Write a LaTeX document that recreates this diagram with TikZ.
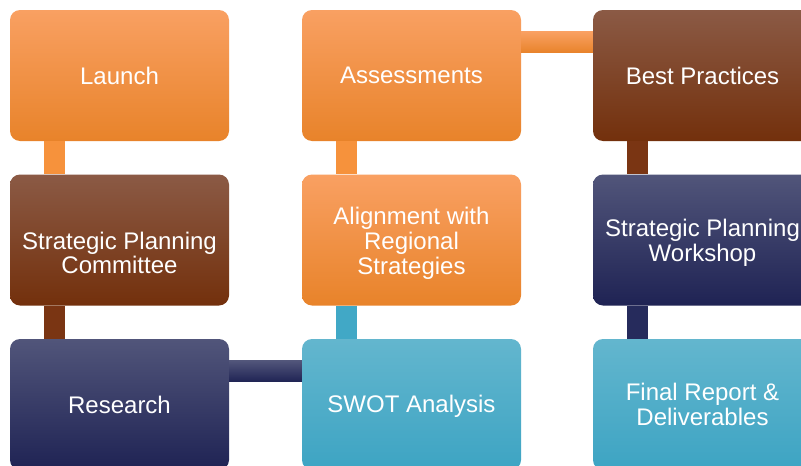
\documentclass[tikz,border=0pt]{standalone}
\usepackage{fontspec}
\setmainfont{Liberation Sans}
\definecolor{orT}{HTML}{F9A062}
\definecolor{orM}{HTML}{FA9640}
\definecolor{orB}{HTML}{E8832A}
\definecolor{brT}{HTML}{8B5A45}
\definecolor{brM}{HTML}{7A3513}
\definecolor{brB}{HTML}{73300C}
\definecolor{nvT}{HTML}{51557A}
\definecolor{nvM}{HTML}{262B5C}
\definecolor{nvB}{HTML}{1F2354}
\definecolor{tlT}{HTML}{63B6CE}
\definecolor{tlM}{HTML}{48ADCA}
\definecolor{tlB}{HTML}{3DA4C3}
\tikzset{
  txt/.style={inner sep=0pt, align=center, text=white, font=\fontsize{24}{24.8}\selectfont},
  box/.style={txt, rectangle, rounded corners=10pt, minimum width=219pt, minimum height=131pt},
  orbox/.style={box, top color=orT, middle color=orM, bottom color=orB},
  brbox/.style={box, top color=brT, middle color=brM, bottom color=brB},
  nvbox/.style={box, top color=nvT, middle color=nvM, bottom color=nvB},
  tlbox/.style={box, top color=tlT, middle color=tlM, bottom color=tlB},
  orbar/.style={top color=orT, bottom color=orB},
  nvbar/.style={top color=nvT, bottom color=nvB},
  orvbar/.style={fill=orM!80!orB},
  brvbar/.style={fill=brM},
  nvvbar/.style={fill=nvM},
  tlvbar/.style={fill=tlB!60!tlM},
}
\begin{document}
\begin{tikzpicture}[x=1pt,y=-1pt]
\useasboundingbox[fill=white] (0,0) rectangle (801,466);
\clip (0,0) rectangle (801,466);
\node[orbox] (launch) at (119.5,75.5) {Launch};
\node[brbox] (spc) at (119.5,240) {};
\node[txt] (spcT) at ([yshift=-13pt]spc.center) {Strategic Planning\\Committee};
\node[nvbox] (research) at (119.5,404.5) {Research};
\node[orbox] (assess) at (411.5,75.5) {Assessments};
\node[orbox] (align) at (411.5,240) {};
\node[txt] (alignT) at ([yshift=-3.5pt]align.center) {Alignment with\\Regional\\Strategies};
\node[tlbox] (swot) at (411.5,404.5) {};
\node[txt] (swotT) at ([yshift=-2pt]swot.center) {SWOT Analysis};
\node[brbox] (best) at (702.5,75.5) {Best Practices};
\node[nvbox] (spw) at (702.5,240) {};
\node[txt] (spwT) at ([yshift=-2.5pt]spw.center) {Strategic Planning\\Workshop};
\node[tlbox] (final) at (702.5,404.5) {Final Report \&\\Deliverables};
% connectors
\path[orvbar] ([xshift=34pt]launch.south west) rectangle ([xshift=55pt]spc.north west);
\path[brvbar] ([xshift=34pt]spc.south west) rectangle ([xshift=55pt]research.north west);
\shade[nvbar] ([yshift=-22pt]research.north east) rectangle ([yshift=-43pt]swot.north west);
\path[tlvbar] ([xshift=34pt]swot.north west) rectangle ([xshift=55pt]align.south west);
\path[orvbar] ([xshift=34pt]align.north west) rectangle ([xshift=55pt]assess.south west);
\shade[orbar] ([yshift=-22pt]assess.north east) rectangle ([yshift=-43pt]best.north west);
\path[brvbar] ([xshift=34pt]best.south west) rectangle ([xshift=55pt]spw.north west);
\path[nvvbar] ([xshift=34pt]spw.south west) rectangle ([xshift=55pt]final.north west);
\end{tikzpicture}
\end{document}
